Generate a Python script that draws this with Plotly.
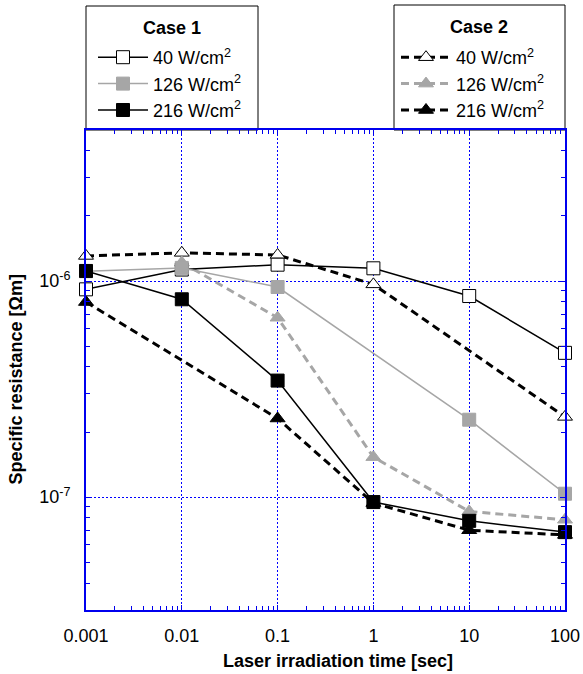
import numpy as np
import plotly.graph_objects as go

# ---- data ----
t_all = [0.001, 0.01, 0.1, 1, 10, 100]

c1_40_x = [0.001, 0.01, 0.1, 1, 10, 100]
c1_40_y = [0.915e-6, 1.13e-6, 1.19e-6, 1.145e-6, 0.852e-6, 0.465e-6]

c1_126_x = [0.001, 0.01, 0.1, 10, 100]
c1_126_y = [1.11e-6, 1.15e-6, 0.938e-6, 0.228e-6, 0.1036e-6]

c1_216_x = [0.001, 0.01, 0.1, 1, 10, 100]
c1_216_y = [1.113e-6, 0.823e-6, 0.346e-6, 0.0948e-6, 0.0776e-6, 0.0688e-6]

c2_40_x = [0.001, 0.01, 0.1, 1, 100]
c2_40_y = [1.306e-6, 1.35e-6, 1.32e-6, 0.965e-6, 0.235e-6]

c2_126_x = [0.01, 0.1, 1, 10, 100]
c2_126_y = [1.217e-6, 0.676e-6, 0.153e-6, 0.0858e-6, 0.0785e-6]

c2_216_x = [0.001, 0.1, 1, 10, 100]
c2_216_y = [0.799e-6, 0.231e-6, 0.0938e-6, 0.0702e-6, 0.0668e-6]

x_ticklabels = ["0.001", "0.01", "0.1", "1", "10", "100"]
y_tickvals = [1e-7, 1e-6]
y_ticklabels = ["10<sup>-7</sup>", "10<sup>-6</sup>"]
labels = ["40 W/cm<sup>2</sup>", "126 W/cm<sup>2</sup>", "216 W/cm<sup>2</sup>"]
x_title = "Laser irradiation time [sec]"
y_title = "Specific resistance [Ωm]"

FONT = "Arial, Liberation Sans, sans-serif"
BLUE = "#0000ee"
GRIDBLUE = "#0000ff"
GREY = "#a6a6a6"

fig = go.Figure()

def add(x, y, name, color, dash, symbol, fill, width, legend, lcolor):
    fig.add_trace(go.Scatter(
        x=x, y=y, mode="lines+markers", name=name, legend=legend,
        line=dict(color=color, width=width, dash=dash),
        marker=dict(symbol=symbol, size=13, color=fill, line=dict(color=lcolor, width=1)),
        cliponaxis=False))

add(c2_40_x, c2_40_y, labels[0], "black", "8px,5px", "triangle-up", "white", 3, "legend2", "black")
add(c2_126_x, c2_126_y, labels[1], GREY, "8px,5px", "triangle-up", GREY, 3, "legend2", GREY)
add(c2_216_x, c2_216_y, labels[2], "black", "8px,5px", "triangle-up", "black", 3, "legend2", "black")
add(c1_40_x, c1_40_y, labels[0], "black", "solid", "square", "white", 1.5, "legend", "black")
add(c1_126_x, c1_126_y, labels[1], GREY, "solid", "square", GREY, 1.5, "legend", GREY)
add(c1_216_x, c1_216_y, labels[2], "black", "solid", "square", "black", 1.5, "legend", "black")

minor_x = [m * 10.0 ** e for e in range(-3, 2) for m in range(2, 10)]
minor_y = [m * 10.0 ** e for e in range(-8, -5) for m in range(2, 10)]

axis_common = dict(
    showline=True, linecolor=BLUE, linewidth=2, mirror="allticks",
    ticks="inside", ticklen=5, tickcolor=BLUE, tickwidth=1,
    showgrid=True, gridcolor=GRIDBLUE, griddash="2px,2px", gridwidth=1,
    zeroline=False, tickfont=dict(family=FONT, size=18, color="black"),
)

fig.update_xaxes(type="log", range=[-3, 2], tickvals=t_all, ticktext=x_ticklabels,
                 ticklabelstandoff=8,
                 minor=dict(tickvals=minor_x, ticks="inside", ticklen=4, tickcolor=BLUE, showgrid=False),
                 **axis_common)
fig.update_yaxes(type="log", range=[np.log10(3e-8), np.log10(5e-6)], tickvals=y_tickvals, ticktext=y_ticklabels,
                 ticklabelstandoff=10,
                 minor=dict(tickvals=minor_y, ticks="inside", ticklen=4, tickcolor=BLUE, showgrid=False),
                 **axis_common)

L, R, T, B = 86, 18, 130, 64
W, H = 583, 674
pw, ph = W - L - R, H - T - B

def px(xp):
    return (xp - L) / pw

def py(yp):
    return (H - B - yp) / ph

shapes = [
    dict(type="rect", xref="paper", yref="paper", x0=px(86), x1=px(258), y0=py(130), y1=py(6),
         line=dict(color="black", width=1), fillcolor="white", layer="below"),
    dict(type="rect", xref="paper", yref="paper", x0=px(394), x1=px(565), y0=py(130), y1=py(5),
         line=dict(color="black", width=1), fillcolor="white", layer="below"),
]

def ann(text, x, y, angle=0):
    return dict(text=text, xref="paper", yref="paper", x=px(x), y=py(y), showarrow=False,
                textangle=angle, xanchor="center", yanchor="middle",
                font=dict(family=FONT, size=18, color="black"))

annotations = [
    ann("<b>Case 1</b>", 172, 28),
    ann("<b>Case 2</b>", 479, 27),
    ann("<b>" + x_title + "</b>", 338, 661),
    ann("<b>" + y_title + "</b>", 15.5, 379, -90),
]

leg_common = dict(bgcolor="rgba(0,0,0,0)", borderwidth=0, font=dict(family=FONT, size=18, color="black"),
                  xanchor="left", yanchor="top", traceorder="normal", tracegroupgap=0, itemwidth=50)

fig.update_layout(
    width=W, height=H, margin=dict(l=L, r=R, t=T, b=B, autoexpand=False),
    paper_bgcolor="white", plot_bgcolor="white",
    shapes=shapes, annotations=annotations, showlegend=True,
    legend=dict(x=px(93), y=py(39), **leg_common),
    legend2=dict(x=px(396), y=py(39), **leg_common),
    font=dict(family=FONT, color="black"),
)

fig.write_html("out.html", config={"displayModeBar": False},
               post_script="document.body.style.margin='0px';")
